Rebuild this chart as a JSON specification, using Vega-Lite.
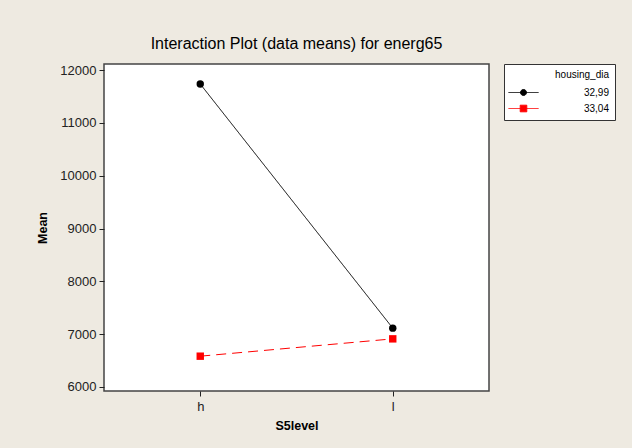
{
  "$schema": "https://vega.github.io/schema/vega-lite/v6.json",
  "width": 385,
  "height": 327,
  "autosize": "none",
  "padding": {"left": 104, "top": 64, "right": 143, "bottom": 57},
  "background": "#EEEAE1",
  "title": {"text": "Interaction Plot (data means) for energ65", "fontSize": 16, "font": "Liberation Sans", "fontWeight": "normal", "color": "#000", "anchor": "middle", "offset": 12},
  "data": {"values": [
    {"S5level": "h", "housing_dia": "32,99", "Mean": 11735},
    {"S5level": "l", "housing_dia": "32,99", "Mean": 7114},
    {"S5level": "h", "housing_dia": "33,04", "Mean": 6583},
    {"S5level": "l", "housing_dia": "33,04", "Mean": 6911}
  ]},
  "encoding": {
    "x": {"field": "S5level", "type": "nominal", "scale": {"type": "point", "padding": 0.5},
      "axis": {"labelAngle": 0, "title": "S5level", "titlePadding": 6, "labelPadding": 4}},
    "y": {"field": "Mean", "type": "quantitative", "scale": {"domain": [5924, 12114], "nice": false, "zero": false},
      "axis": {"values": [6000, 7000, 8000, 9000, 10000, 11000, 12000], "format": "d", "labelPadding": 3, "title": "Mean", "titlePadding": 10}},
    "color": {"field": "housing_dia", "type": "nominal", "scale": {"domain": ["32,99", "33,04"], "range": ["#000000", "#FF0000"]},
      "legend": {
        "title": "housing_dia", "orient": "none", "legendX": 400, "legendY": 0,
        "fillColor": "white", "strokeColor": "#333", "padding": 6,
        "titleAnchor": "end", "titleFontWeight": "normal", "titleFontSize": 10, "titleFont": "Liberation Sans", "titleColor": "#000",
        "labelFont": "Liberation Sans", "labelFontSize": 10, "labelColor": "#000", "labelAlign": "right", "labelOffset": 79,
        "symbolOffset": 7, "rowPadding": 4, "titlePadding": 6, "symbolSize": 144,
        "encode": {"symbols": {"update": {
          "shape": {"signal": "datum.value === '32,99' ? 'M-2.5,0H2.5M-0.5,0A0.5,0.5,0,1,1,0.5,0A0.5,0.5,0,1,1,-0.5,0Z' : 'M-2.5,0H2.5M-0.55,-0.55H0.55V0.55H-0.55Z'"},
          "fill": {"signal": "datum.value === '32,99' ? 'black' : 'red'"},
          "stroke": {"signal": "datum.value === '32,99' ? 'black' : 'red'"},
          "strokeWidth": {"value": 1},
          "strokeDash": {"value": [1, 0]},
          "size": {"value": 144},
          "opacity": {"value": 1}
        }}}
      }}
  },
  "layer": [
    {"mark": {"type": "line", "strokeWidth": 1},
     "encoding": {"strokeDash": {"condition": {"test": "datum.housing_dia === '33,04'", "value": [10, 6]}, "value": [1, 0]}}},
    {"mark": {"type": "point", "filled": true, "opacity": 1, "size": 55},
     "encoding": {"shape": {"condition": {"test": "datum.housing_dia === '33,04'", "value": "square"}, "value": "circle"}}}
  ],
  "config": {
    "view": {"fill": "white", "stroke": "#444", "strokeWidth": 1.5},
    "axis": {"domain": false, "grid": false, "labelFont": "Liberation Sans", "titleFont": "Liberation Sans", "labelColor": "#222", "tickColor": "#222", "titleColor": "#000", "labelFontSize": 13, "titleFontSize": 12.5, "titleFontWeight": "bold", "tickSize": 5}
  }
}
